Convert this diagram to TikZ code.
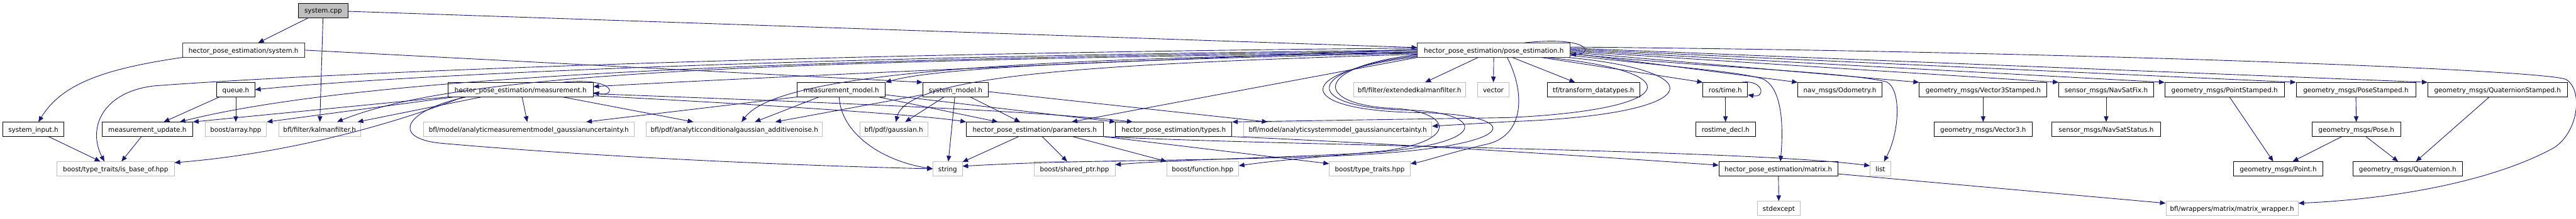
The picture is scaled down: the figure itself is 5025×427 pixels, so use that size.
\documentclass[tikz,border=0pt]{standalone}
\usepackage{fontspec}
\setmainfont{DejaVu Sans}
\usetikzlibrary{arrows.meta}
\definecolor{edgeblue}{HTML}{191970}
\definecolor{greyb}{HTML}{BFBFBF}
\newcommand\mknode[6]{\node[#5,minimum width={(#3-#2)*1pt}] (#1) at ({(#2+#3)/2},#4) {#6};}
\begin{document}
\begin{tikzpicture}[x=1pt,y=-1pt,
  box/.style={draw=black,line width=1pt,fill=white,inner sep=0pt,minimum height=27.7pt,
    text height=10.4pt,text depth=0pt,font=\fontsize{12.75}{14}\selectfont},
  ext/.style={box,draw=greyb},
  e/.style={draw=edgeblue,line width=1.1pt,-{Triangle[length=11pt,width=9pt]}}]
\useasboundingbox (0,0) rectangle (5025,427);
\fill[white] (0,0) rectangle (5025,427);
% row 0
\mknode{syscpp}{582}{679}{20.5}{box,fill=greyb}{system.cpp}
% row 1
\mknode{sysh}{356}{594}{98}{box,draw=black!80}{hector\_pose\_estimation/system.h}
\mknode{pose}{2765}{3063}{98}{box,draw=black!80}{hector\_pose\_estimation/pose\_estimation.h}
% row 2
\mknode{queue}{423}{497}{175.3}{box}{queue.h}
\mknode{meas}{874}{1157}{175.3}{box}{hector\_pose\_estimation/measurement.h}
\mknode{mmodel}{1555}{1727}{175.3}{box}{measurement\_model.h}
\mknode{smodel}{1800}{1928}{175.3}{box}{system\_model.h}
\mknode{ekf}{2640}{2859}{175.3}{ext}{bfl/filter/extendedkalmanfilter.h}
\mknode{vector}{2882}{2944}{175.3}{ext}{vector}
\mknode{tf}{3018}{3199}{175.3}{box}{tf/transform\_datatypes.h}
\mknode{rostime}{3322}{3409}{175.3}{box}{ros/time.h}
\mknode{odom}{3507}{3671}{175.3}{box}{nav\_msgs/Odometry.h}
\mknode{v3s}{3744}{3993}{175.3}{box}{geometry\_msgs/Vector3Stamped.h}
\mknode{navfix}{4016}{4201}{175.3}{box}{sensor\_msgs/NavSatFix.h}
\mknode{pts}{4223}{4456}{175.3}{box}{geometry\_msgs/PointStamped.h}
\mknode{poses}{4479}{4712}{175.3}{box}{geometry\_msgs/PoseStamped.h}
\mknode{qs}{4736}{5008}{175.3}{box}{geometry\_msgs/QuaternionStamped.h}
% row 3
\mknode{sysinput}{5}{125}{252.7}{box}{system\_input.h}
\mknode{mupdate}{199}{376}{252.7}{box}{measurement\_update.h}
\mknode{array}{400}{520}{252.7}{ext}{boost/array.hpp}
\mknode{kalman}{544}{703}{252.7}{ext}{bfl/filter/kalmanfilter.h}
\mknode{amm}{826}{1237}{252.7}{ext}{bfl/model/analyticmeasurementmodel\_gaussianuncertainty.h}
\mknode{acg}{1261}{1604}{252.7}{ext}{bfl/pdf/analyticconditionalgaussian\_additivenoise.h}
\mknode{gaussian}{1677}{1810}{252.7}{ext}{bfl/pdf/gaussian.h}
\mknode{params}{1885}{2152}{252.7}{box}{hector\_pose\_estimation/parameters.h}
\mknode{types}{2176}{2403}{252.7}{box}{hector\_pose\_estimation/types.h}
\mknode{asm}{2426}{2793}{252.7}{ext}{bfl/model/analyticsystemmodel\_gaussianuncertainty.h}
\mknode{rtdecl}{3308}{3424}{252.7}{box}{rostime\_decl.h}
\mknode{v3}{3773}{3964}{252.7}{box}{geometry\_msgs/Vector3.h}
\mknode{navstat}{4002}{4215}{252.7}{box}{sensor\_msgs/NavSatStatus.h}
\mknode{poseh}{4510}{4683}{252.7}{box}{geometry\_msgs/Pose.h}
% row 4
\mknode{isbase}{111}{340}{330}{ext}{boost/type\_traits/is\_base\_of.hpp}
\mknode{string}{1820}{1877}{330}{ext}{string}
\mknode{shptr}{2017}{2175}{330}{ext}{boost/shared\_ptr.hpp}
\mknode{func}{2276}{2416}{330}{ext}{boost/function.hpp}
\mknode{ttraits}{2593}{2751}{330}{ext}{boost/type\_traits.hpp}
\mknode{matrix}{3353}{3585}{330}{box}{hector\_pose\_estimation/matrix.h}
\mknode{list}{3648}{3688}{330}{ext}{list}
\mknode{point}{4357}{4531}{330}{box}{geometry\_msgs/Point.h}
\mknode{quat}{4590}{4803}{330}{box}{geometry\_msgs/Quaternion.h}
% row 5
\mknode{stdexcept}{3428}{3512}{407.3}{ext}{stdexcept}
\mknode{mwrap}{4225}{4483}{407.3}{ext}{bfl/wrappers/matrix/matrix\_wrapper.h}

% ---- edges ----
\draw[e] (syscpp) -- (sysh);
\draw[e] (syscpp) -- (kalman);
\draw[e] (syscpp) -- (pose);
\draw[e] (sysh.south west) .. controls (200,135) and (120,165) .. ([xshift=10pt]sysinput.north);
\draw[e] (sysh.east) -- (smodel.north west);
\draw[e] (sysinput) -- (isbase);
\draw[e] (mupdate) -- (isbase);
\draw[e] (queue) -- (mupdate);
\draw[e] (queue) -- (array);
% measurement.h
\draw[e] (meas.south west) -- (mupdate.north east);
\draw[e] ([xshift=12pt]meas.south west) -- (array.north east);
\draw[e] ([xshift=66pt]meas.south west) -- ([xshift=-6pt]kalman.north east);
\draw[e] ([xshift=30pt]meas.south west) .. controls (760,245) and (560,300) .. ([yshift=12pt]isbase.east);
\draw[e] ([xshift=36pt]meas.south west) .. controls (790,215) and (760,270) .. (860,280) .. controls (1200,310) and (1600,325) .. (string.west);
\draw[e] (meas) -- (amm);
\draw[e] ([xshift=-60pt]meas.south east) -- ([xshift=-80pt]acg.north);
\draw[e] ([xshift=-60pt]meas.north east) .. controls (1200,150) and (1205,190) .. ([yshift=-6pt]meas.east);
\draw[e] ([yshift=-8pt]meas.east) .. controls (1600,200) and (2000,215) .. ([xshift=34pt]types.north west);
\draw[e] ([yshift=-12pt]meas.east) .. controls (1500,205) and (1800,225) .. (params.north west);
% pose_estimation.h to the left
\draw[e] ([yshift=2pt]pose.west) .. controls (2200,120) and (1500,150) .. ([yshift=6pt]meas.east);
\draw[e] (pose.west) .. controls (1600,110) and (800,145) .. (queue.east);
\draw[e] ([yshift=-2pt]pose.west) .. controls (1500,115) and (700,150) .. ([xshift=-26pt]mupdate.north east);
\draw[e] ([yshift=-4pt]pose.west) .. controls (1500,120) and (900,140) .. ([xshift=34pt]kalman.north);
\draw[e] ([yshift=4pt]pose.west) .. controls (1500,105) and (600,145) .. (300,168) .. controls (200,180) and (170,250) .. ([xshift=-22pt]isbase.north);
\draw[e] ([yshift=-6pt]pose.west) .. controls (2000,120) and (1800,140) .. (mmodel.north east);
\draw[e] ([yshift=-8pt]pose.west) .. controls (2150,125) and (1770,145) .. ([xshift=4pt]gaussian.north);
\draw[e] ([yshift=-5pt]pose.west) .. controls (2000,115) and (1520,140) .. ([xshift=14pt]acg.north);
\draw[e] (pose.south west) -- ([xshift=-62pt]params.north east);
% S-curves
\draw[e] ([yshift=-9pt]pose.west) .. controls (2560,130) and (2560,205) .. (2720,212) .. controls (2830,218) and (2850,275) .. (2700,295) .. controls (2600,305) and (2500,312) .. ([yshift=6pt]func.east);
\draw[e] ([yshift=-11pt]pose.west) .. controls (2540,135) and (2540,210) .. (2740,215) .. controls (2900,218) and (2920,285) .. (2650,300) .. controls (2400,312) and (2300,312) .. ([yshift=8pt]shptr.east);
\draw[e] ([yshift=-13pt]pose.west) .. controls (2520,140) and (2520,215) .. (2760,220) .. controls (2980,222) and (2990,290) .. (2600,305) .. controls (2300,316) and (2100,312) .. ([yshift=5pt]string.east);
% loops to the right of pose
\draw[e] ([xshift=103pt]pose.south) .. controls (3300,140) and (3280,215) .. (2940,230) -- (types.north east);
\draw[e] ([xshift=145pt]pose.south) .. controls (3350,140) and (3330,225) .. (2940,238) -- ([yshift=6pt]asm.east);
\draw[e] ([xshift=26pt]pose.south) .. controls (2975,180) and (2975,265) .. (2900,282) .. controls (2830,298) and (2780,315) .. ([yshift=10pt]ttraits.east);
% measurement_model.h
\draw[e] (mmodel.south west) -- ([xshift=-94pt]amm.north east);
\draw[e] ([xshift=43pt]mmodel.south west) -- ([xshift=40pt]acg.north);
\draw[e] ([xshift=-4pt]mmodel.south) .. controls (1640,260) and (1720,315) .. (string.west);
\draw[e] ([yshift=-10pt]mmodel.east) -- (types.north west);
\draw[e] ([xshift=-14pt]mmodel.south east) -- ([xshift=62pt]params.north west);
% system_model.h
\draw[e] ([yshift=-10pt]smodel.west) -- ([xshift=80pt]acg.north);
\draw[e] (smodel) -- (gaussian);
\draw[e] (smodel) -- (string);
\draw[e] (smodel) -- (params);
\draw[e] ([yshift=-4pt]smodel.east) -- ([xshift=47pt]asm.north west);
% parameters.h, types.h
\draw[e] (params) -- (string);
\draw[e] (params) -- (shptr);
\draw[e] ([xshift=-60pt]params.south east) -- (func.north west);
\draw[e] (params.south east) -- ([yshift=10pt]ttraits.west);
\draw[e] (params.south east) .. controls (2500,285) and (3400,292) .. ([yshift=6pt]list.west);
\draw[e] (types.south east) .. controls (2700,280) and (3100,305) .. ([yshift=7pt]matrix.west);
% pose_estimation.h downward / right
\draw[e] (pose) -- (ekf);
\draw[e] (pose) -- (vector);
\draw[e] (pose) -- (tf);
\draw[e] (pose) -- (rostime.north west);
\draw[e] ([xshift=-90pt]pose.north east) .. controls (3100,70) and (3110,105) .. ([yshift=-9pt]pose.east);
\draw[e] ([yshift=-10pt]pose.east) .. controls (3250,130) and (3400,140) .. (3440,155) .. controls (3480,175) and (3478,260) .. ([xshift=4pt]matrix.north);
\draw[e] ([yshift=-7pt]pose.east) .. controls (3300,130) and (3600,140) .. (3680,160) .. controls (3710,175) and (3705,260) .. ([xshift=7pt]list.north);
\draw[e] ([yshift=-6pt]pose.east) -- (odom.north west);
\draw[e] ([yshift=-4pt]pose.east) -- (v3s.north west);
\draw[e] ([yshift=-2pt]pose.east) -- (navfix.north west);
\draw[e] (pose.east) -- (pts.north west);
\draw[e] ([yshift=2pt]pose.east) -- (poses.north west);
\draw[e] ([yshift=4pt]pose.east) -- (qs.north west);
\draw[e] ([yshift=6pt]pose.east) .. controls (4000,100) and (4950,135) .. (5005,155) .. controls (5040,175) and (5030,260) .. (4980,290) .. controls (4850,360) and (4650,390) .. ([yshift=10pt]mwrap.east);
% ros/time.h
\draw[e] ([xshift=-12pt]rostime.north east) .. controls (3440,155) and (3445,192) .. ([yshift=-10pt]rostime.east);
\draw[e] (rostime) -- (rtdecl);
% matrix.h
\draw[e] (matrix) -- (stdexcept);
\draw[e] ([yshift=-10pt]matrix.east) -- ([yshift=10pt]mwrap.west);
% geometry / sensor msgs
\draw[e] (v3s) -- (v3);
\draw[e] (navfix) -- (navstat);
\draw[e] (pts) -- (point);
\draw[e] (poses) -- (poseh);
\draw[e] (poseh) -- (point);
\draw[e] (poseh) -- (quat);
\draw[e] (qs) -- (quat);
\end{tikzpicture}
\end{document}
